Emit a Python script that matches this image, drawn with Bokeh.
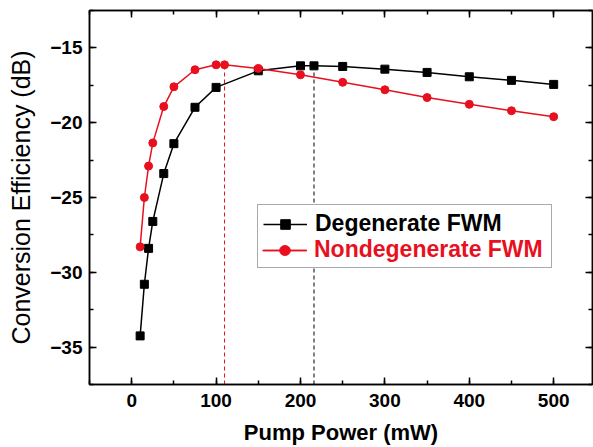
from bokeh.plotting import figure
from bokeh.models import (LinearAxis, SingleIntervalTicker, Legend, LegendItem,
                          Range1d)
from bokeh.embed import file_html
from bokeh.resources import INLINE

# ---- data ----
deg_x = [10, 15, 20, 25, 38, 50, 75, 100, 150, 200, 216, 250, 300, 350, 400, 450, 500]
deg_y = [-34.25, -30.8, -28.4, -26.6, -23.4, -21.4, -18.97, -17.64, -16.53, -16.2,
         -16.2, -16.24, -16.42, -16.64, -16.93, -17.17, -17.44]

nd_x = [10, 15, 20, 25, 38, 50, 75, 100, 110, 150, 200, 250, 300, 350, 400, 450, 500]
nd_y = [-28.3, -25.0, -22.9, -21.35, -18.92, -17.6, -16.46, -16.13, -16.13, -16.37,
        -16.8, -17.3, -17.8, -18.32, -18.77, -19.2, -19.6]

deg_peak_x = 216
deg_peak_y = -16.2
nd_peak_x = 110
nd_peak_y = -16.13

x_title = "Pump Power (mW)"
y_title = "Conversion Efficiency (dB)"
deg_label = "Degenerate FWM"
nd_label = "Nondegenerate FWM"

RED = "#e8101e"
FONT = "Liberation Sans"

p = figure(width=593, height=447, output_backend="svg", toolbar_location=None,
           x_range=Range1d(-50, 546), y_range=Range1d(-37.5, -12.5),
           min_border_left=89, min_border_right=1, min_border_top=10,
           min_border_bottom=62)
p.grid.visible = False
p.outline_line_color = "black"
p.outline_line_width = 1.5
p.background_fill_color = "white"


def style_axis(ax, labels=True):
    ax.axis_line_width = 1.5
    ax.axis_line_color = "black"
    ax.major_tick_in = 7
    ax.major_tick_out = 0
    ax.minor_tick_in = 4
    ax.minor_tick_out = 0
    ax.major_tick_line_width = 1.5
    ax.minor_tick_line_width = 1.5
    ax.major_tick_line_color = "black"
    ax.minor_tick_line_color = "black"
    if labels:
        ax.major_label_text_font = FONT
        ax.major_label_text_font_style = "bold"
        ax.major_label_text_font_size = "19px"
        ax.major_label_text_color = "black"
    else:
        ax.major_label_text_font_size = "1px"
        ax.major_label_text_color = None
        ax.major_label_standoff = 0


p.xaxis.ticker = SingleIntervalTicker(interval=100, num_minor_ticks=2)
p.yaxis.ticker = SingleIntervalTicker(interval=5, num_minor_ticks=2)
style_axis(p.xaxis[0])
style_axis(p.yaxis[0])
p.xaxis.major_label_standoff = 9
p.yaxis.major_label_standoff = 7

p.xaxis.axis_label = x_title
p.xaxis.axis_label_text_font = FONT
p.xaxis.axis_label_text_font_style = "bold"
p.xaxis.axis_label_text_font_size = "22px"
p.xaxis.axis_label_text_color = "black"
p.xaxis.axis_label_standoff = 10

p.yaxis.axis_label = y_title
p.yaxis.axis_label_text_font = FONT
p.yaxis.axis_label_text_font_style = "normal"
p.yaxis.axis_label_text_font_size = "25px"
p.yaxis.axis_label_text_color = "black"
p.yaxis.axis_label_standoff = 12

top = LinearAxis(ticker=SingleIntervalTicker(interval=100, num_minor_ticks=2))
style_axis(top, labels=False)
p.add_layout(top, "above")
right = LinearAxis(ticker=SingleIntervalTicker(interval=5, num_minor_ticks=2))
style_axis(right, labels=False)
p.add_layout(right, "right")

# dashed markers of the maxima
p.segment(x0=[nd_peak_x], y0=[-37.5], x1=[nd_peak_x], y1=[nd_peak_y],
          line_color=RED, line_dash="4 3", line_width=1)
p.segment(x0=[deg_peak_x], y0=[-37.5], x1=[deg_peak_x], y1=[deg_peak_y],
          line_color="black", line_dash="4 3", line_width=1)

dl = p.line(deg_x, deg_y, line_color="black", line_width=1.5)
ds = p.scatter(deg_x, deg_y, marker="square", size=8, fill_color="black",
               line_color="black")
nl = p.line(nd_x, nd_y, line_color=RED, line_width=1.5)
ns = p.scatter(nd_x, nd_y, marker="circle", size=8, fill_color=RED,
               line_color=RED)

common = dict(location=(168, 116), padding=5, spacing=1, glyph_width=44,
              glyph_height=24, label_height=24, label_width=231,
              label_standoff=8, label_text_font=FONT,
              label_text_font_style="bold", label_text_font_size="23px",
              margin=0)

legA = Legend(items=[LegendItem(label=deg_label, renderers=[dl, ds]),
                     LegendItem(label=" ", renderers=[nl, ns])],
              label_text_color="black", border_line_color="#555555",
              border_line_width=1.2, background_fill_color="white",
              background_fill_alpha=1.0, **common)
legB = Legend(items=[LegendItem(label=nd_label, renderers=[nl, ns])],
              label_text_color=RED, border_line_alpha=0,
              background_fill_alpha=0, **common)
p.add_layout(legA)
p.add_layout(legB)

open("out.html", "w").write(file_html(p, INLINE))
